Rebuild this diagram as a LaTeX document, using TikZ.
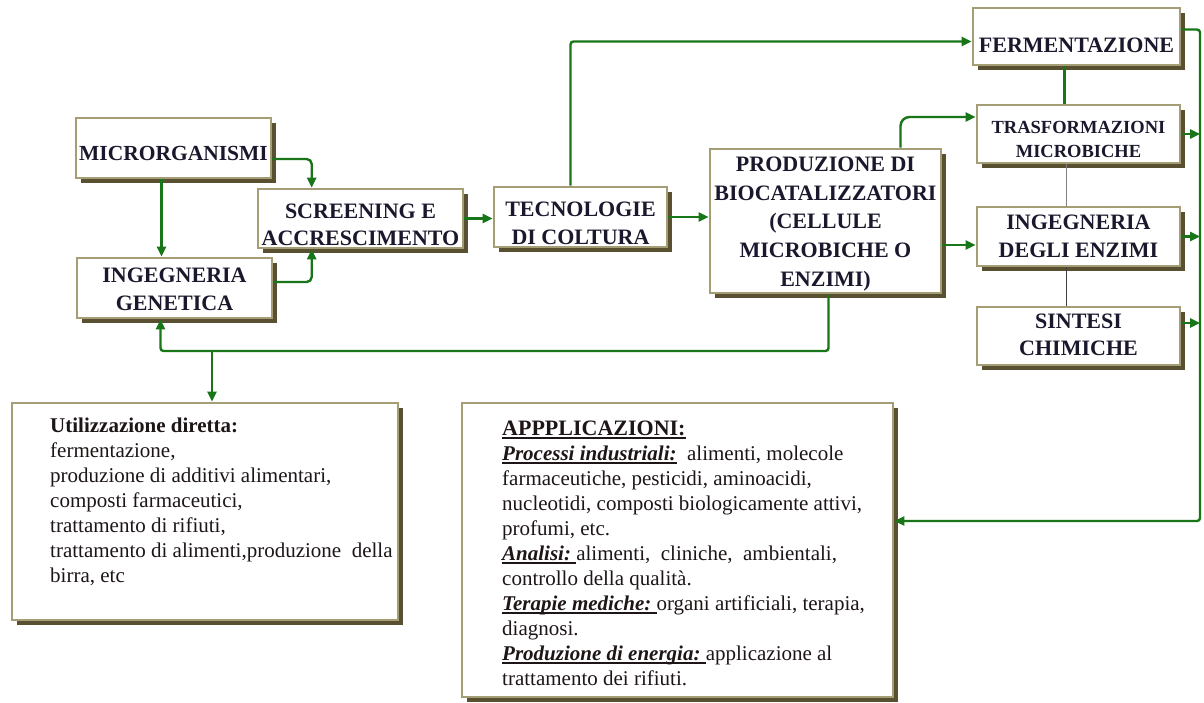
\documentclass[tikz,border=0pt]{standalone}
\usepackage{fontspec}
\setmainfont{Liberation Serif}
\usetikzlibrary{arrows.meta,shadows}
\definecolor{boxc}{RGB}{165,157,118}
\definecolor{shadc}{RGB}{88,80,48}
\definecolor{arrc}{RGB}{24,118,24}
\definecolor{titlec}{RGB}{26,24,44}
\definecolor{bodyc}{RGB}{30,22,22}
\newcommand\myul[1]{\setbox0\hbox{#1}\rlap{\rule[-3pt]{\wd0}{1.5pt}}\box0}
\newcommand\dn[2]{\raisebox{-#1}[\height][\depth]{\begin{tabular}{@{}c@{}}#2\end{tabular}}}
\tikzset{
  box/.style={draw=boxc, line width=2.6pt, fill=white,
    drop shadow={shadow xshift=5pt, shadow yshift=-5pt, fill=shadc, opacity=1},
    text=titlec, inner sep=0pt,
    font=\bfseries\fontsize{22}{28}\selectfont},
  bodytext/.style={anchor=north west, inner sep=0pt, align=left, text=bodyc,
    font=\fontsize{21}{25}\selectfont},
  arr/.style={draw=arrc, line width=2.4pt, -{Triangle[length=10pt,width=9pt]}},
  link/.style={draw=arrc, line width=2.4pt},
  thinlink/.style={line width=1pt}
}
\begin{document}
\begin{tikzpicture}[x=1pt,y=-1pt]
\useasboundingbox (0,0) rectangle (1204,702);
\fill[white] (0,0) rectangle (1204,702);

\node[box, minimum width=195pt, minimum height=60pt, font=\bfseries\fontsize{21.5}{28}\selectfont] (micro) at (173.5,148) {\dn{7pt}{MICRORGANISMI}};
\node[box, minimum width=205pt, minimum height=59pt, font=\bfseries\fontsize{22}{26.5}\selectfont] (screen) at (360.5,218.5) {\dn{8pt}{SCREENING E\\ACCRESCIMENTO}};
\node[box, minimum width=195pt, minimum height=60pt] (ingen) at (174.5,288) {\dn{3pt}{INGEGNERIA\\GENETICA}};
\node[box, minimum width=173pt, minimum height=60pt] (tecno) at (580.5,217) {\dn{8pt}{TECNOLOGIE\\DI COLTURA}};
\node[box, minimum width=231pt, minimum height=144pt, font=\bfseries\fontsize{22}{28.7}\selectfont] (prod) at (825.5,221) {\dn{2pt}{PRODUZIONE DI\\BIOCATALIZZATORI\\(CELLULE\\MICROBICHE O\\ENZIMI)}};
\node[box, minimum width=207pt, minimum height=57pt] (ferm) at (1076.5,36.5) {\dn{10pt}{FERMENTAZIONE}};
\node[box, minimum width=203pt, minimum height=58pt, font=\bfseries\fontsize{18.5}{24}\selectfont] (trasf) at (1078.5,134) {\dn{7pt}{TRASFORMAZIONI\\MICROBICHE}};
\node[box, minimum width=203pt, minimum height=59pt] (enz) at (1078.5,236.5) {\dn{1pt}{INGEGNERIA\\DEGLI ENZIMI}};
\node[box, minimum width=203pt, minimum height=58pt, font=\bfseries\fontsize{22}{27}\selectfont] (sint) at (1078.5,336) {\dn{1pt}{SINTESI\\CHIMICHE}};
\node[box, minimum width=386pt, minimum height=217pt] (util) at (205,511.5) {};
\node[box, minimum width=431pt, minimum height=294pt] (appl) at (677.5,550) {};

\node[bodytext] (utiltext) at (50,418) {\textbf{Utilizzazione diretta:}\\
fermentazione,\\
produzione di additivi alimentari,\\
composti farmaceutici,\\
trattamento di rifiuti,\\
trattamento di alimenti,produzione\ \ della\\
birra, etc};

\node[bodytext] (appltext) at (502,421) {\myul{\textbf{\fontsize{22}{25}\selectfont APPPLICAZIONI:}}\\
\myul{\textbf{\textit{Processi industriali:}}}\ \ alimenti, molecole\\
farmaceutiche, pesticidi, aminoacidi,\\
nucleotidi, composti biologicamente attivi,\\
profumi, etc.\\
\myul{\textbf{\textit{Analisi:}}\ }alimenti, \ cliniche, \ ambientali,\\
controllo della qualità.\\
\myul{\textbf{\textit{Terapie mediche:}}\ }organi artificiali, terapia,\\
diagnosi.\\
\myul{\textbf{\textit{Produzione di energia:}}\ }applicazione al\\
trattamento dei rifiuti.};

% connectors
\draw[arr, rounded corners=5pt] ([yshift=-11pt]micro.east) -| ([xshift=55pt]screen.north west);
\draw[arr] ([xshift=-12pt]micro.south) -- ([xshift=-12pt]micro.south |- ingen.north);
\draw[arr, rounded corners=5pt] ([yshift=6pt]ingen.east) -| ([xshift=55pt]screen.south west);
\draw[arr] (screen.east) -- (screen.east -| tecno.west);
\draw[arr, rounded corners=3pt] ([xshift=-10pt]tecno.north) |- ([yshift=-5pt]ferm.west);
\draw[arr] (tecno.east) -- (tecno.east -| prod.west);
\draw[arr, rounded corners=9pt] ([xshift=75pt]prod.north) |- ([yshift=17pt]trasf.west);
\draw[arr] ([yshift=-24pt]prod.east) -- ([yshift=-24pt]prod.east -| enz.west);

\coordinate (jn) at (212,351);
\draw[arr, rounded corners=3pt] ([xshift=3pt]prod.south) |- ([xshift=-14pt]ingen.south |- jn) -- ([xshift=-14pt]ingen.south);
\draw[arr] (jn) -- (jn |- util.north);

\coordinate (bb) at (1200,521);
\draw[arr, rounded corners=3pt] ([yshift=7pt]ferm.east) -| (bb) -- (bb -| appl.east);
\draw[arr] (trasf.east) -- (trasf.east -| bb);
\draw[arr] (enz.east) -- (enz.east -| bb);
\draw[arr] ([yshift=13pt]sint.east) -- ([yshift=13pt]sint.east -| bb);

\draw[link] ([xshift=-12pt]ferm.south) -- ([xshift=-12pt]ferm.south |- trasf.north);
\draw[thinlink, draw=gray] ([xshift=-12pt]trasf.south) -- ([xshift=-12pt]trasf.south |- enz.north);
\draw[thinlink, draw=black!75] ([xshift=-12pt]enz.south) -- ([xshift=-12pt]enz.south |- sint.north);
\end{tikzpicture}
\end{document}
